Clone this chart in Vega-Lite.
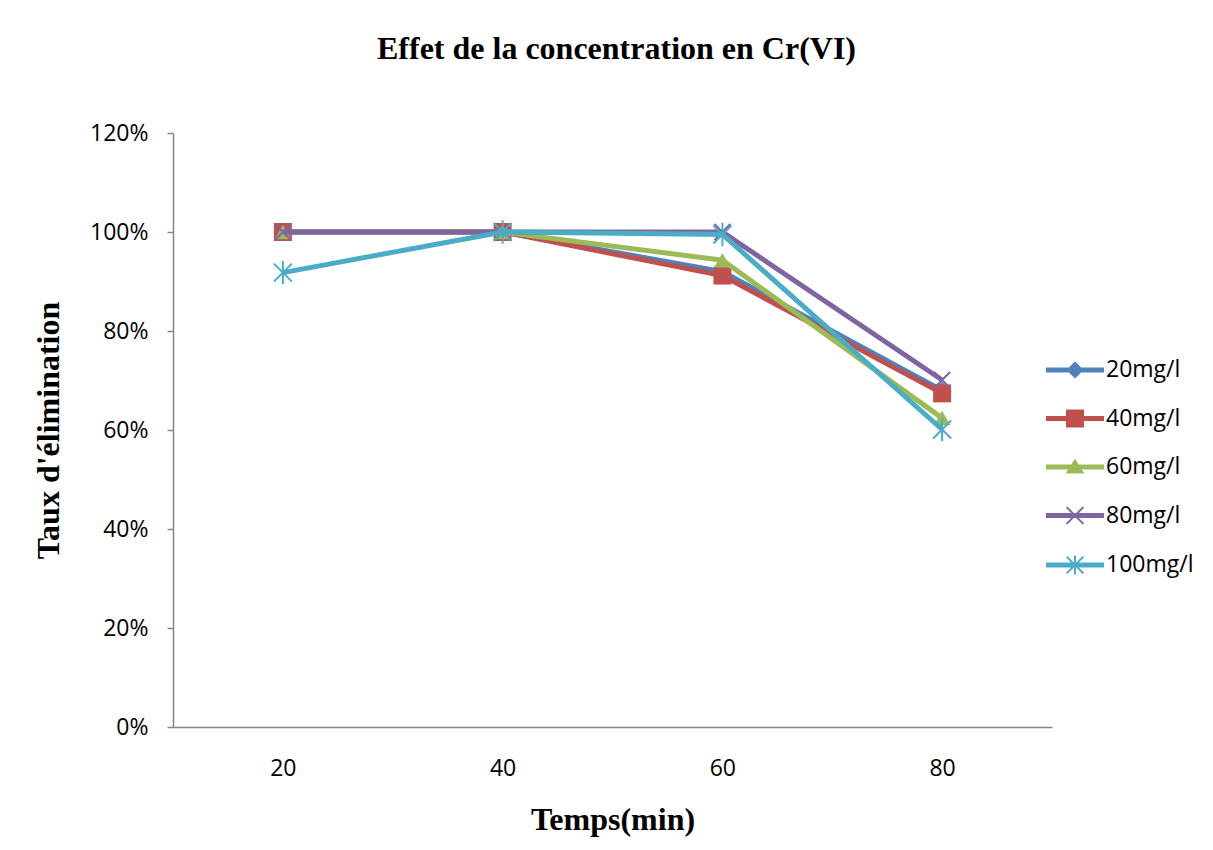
{
  "$schema": "https://vega.github.io/schema/vega-lite/v6.json",
  "autosize": {"type": "none"},
  "width": 879,
  "height": 594,
  "padding": {"left": 173, "top": 133, "right": 161, "bottom": 123},
  "background": "white",
  "config": {
    "view": {"stroke": null}
  },
  "title": {
    "text": "Effet de  la concentration en  Cr(VI)",
    "font": "Liberation Serif",
    "fontSize": 32,
    "fontWeight": "bold",
    "color": "#000000",
    "anchor": "middle",
    "baseline": "alphabetic",
    "offset": 31,
    "dx": 4
  },
  "data": {
    "values": [
      {"t": 20, "s": "20mg/l", "v": 1.0},
      {"t": 40, "s": "20mg/l", "v": 1.0},
      {"t": 60, "s": "20mg/l", "v": 0.92},
      {"t": 80, "s": "20mg/l", "v": 0.68},
      {"t": 20, "s": "40mg/l", "v": 1.0},
      {"t": 40, "s": "40mg/l", "v": 1.0},
      {"t": 60, "s": "40mg/l", "v": 0.912},
      {"t": 80, "s": "40mg/l", "v": 0.674},
      {"t": 20, "s": "60mg/l", "v": 1.0},
      {"t": 40, "s": "60mg/l", "v": 1.0},
      {"t": 60, "s": "60mg/l", "v": 0.943},
      {"t": 80, "s": "60mg/l", "v": 0.624},
      {"t": 20, "s": "80mg/l", "v": 1.0},
      {"t": 40, "s": "80mg/l", "v": 1.0},
      {"t": 60, "s": "80mg/l", "v": 1.0},
      {"t": 80, "s": "80mg/l", "v": 0.701},
      {"t": 20, "s": "100mg/l", "v": 0.918},
      {"t": 40, "s": "100mg/l", "v": 1.0},
      {"t": 60, "s": "100mg/l", "v": 0.995},
      {"t": 80, "s": "100mg/l", "v": 0.601}
    ]
  },
  "encoding": {
    "x": {
      "field": "t",
      "type": "ordinal",
      "scale": {"type": "point", "padding": 0.5},
      "axis": {
        "title": "Temps(min)",
        "labelAngle": 0,
        "ticks": false,
        "labelPadding": 30,
        "labelFont": "Open Sans",
        "labelFontSize": 23,
        "labelColor": "#000000",
        "domainColor": "#868686",
        "domainWidth": 1.5,
        "titleFont": "Liberation Serif",
        "titleFontSize": 32,
        "titleFontWeight": "bold",
        "titleColor": "#000000",
        "titlePadding": 24
      }
    },
    "y": {
      "field": "v",
      "type": "quantitative",
      "scale": {"domain": [0, 1.2], "nice": false},
      "axis": {
        "title": "Taux d'élimination",
        "values": [0, 0.2, 0.4, 0.6, 0.8, 1.0, 1.2],
        "format": ".0%",
        "grid": false,
        "labelFont": "Open Sans",
        "labelFontSize": 23,
        "labelColor": "#000000",
        "labelPadding": 19,
        "domainColor": "#868686",
        "domainWidth": 1.5,
        "tickColor": "#868686",
        "tickWidth": 1.5,
        "tickSize": 6,
        "titleFont": "Liberation Serif",
        "titleFontSize": 32,
        "titleFontWeight": "bold",
        "titleColor": "#000000",
        "titlePadding": 24
      }
    }
  },
  "layer": [
    {
      "transform": [{"filter": "datum.s === '20mg/l'"}],
      "mark": {"type": "line", "strokeWidth": 5, "color": "#4F81BD", "point": {"shape": "diamond", "filled": true, "size": 300, "color": "#4F81BD"}}
    },
    {
      "transform": [{"filter": "datum.s === '40mg/l'"}],
      "mark": {"type": "line", "strokeWidth": 5, "color": "#C0504D", "point": {"shape": "square", "filled": true, "size": 324, "color": "#C0504D"}}
    },
    {
      "transform": [{"filter": "datum.s === '60mg/l'"}],
      "mark": {"type": "line", "strokeWidth": 5, "color": "#9BBB59", "point": {"shape": "triangle-up", "filled": true, "size": 280, "color": "#9BBB59"}}
    },
    {
      "transform": [{"filter": "datum.s === '80mg/l'"}],
      "mark": {"type": "line", "strokeWidth": 5, "color": "#8064A2", "point": {"shape": "M-1,-1L1,1M-1,1L1,-1", "filled": false, "size": 256, "strokeWidth": 2, "color": "#8064A2"}}
    },
    {
      "transform": [{"filter": "datum.s === '100mg/l'"}],
      "mark": {"type": "line", "strokeWidth": 5, "color": "#4BACC6", "point": {"shape": "M-1,-1L1,1M-1,1L1,-1M0,-1.3L0,1.3", "filled": false, "size": 324, "strokeWidth": 2, "color": "#4BACC6"}}
    },
    {
      "mark": {"type": "point", "filled": true, "opacity": 1, "size": 0},
      "encoding": {
        "color": {
          "field": "s",
          "type": "nominal",
          "scale": {"domain": ["20mg/l", "40mg/l", "60mg/l", "80mg/l", "100mg/l"], "range": ["#4F81BD", "#C0504D", "#9BBB59", "#8064A2", "#4BACC6"]},
          "legend": {"title": null, "orient": "none", "legendX": 881, "legendY": 216, "symbolSize": 1600, "symbolStrokeWidth": 2, "labelFont": "Open Sans", "labelFontSize": 23, "labelColor": "#000000", "labelOffset": 10, "rowPadding": 15.5, "padding": 0}
        },
        "stroke": {
          "field": "s",
          "type": "nominal",
          "scale": {"domain": ["20mg/l", "40mg/l", "60mg/l", "80mg/l", "100mg/l"], "range": ["#4F81BD", "#C0504D", "#9BBB59", "#8064A2", "#4BACC6"]},
          "legend": {"title": null, "orient": "none", "legendX": 881, "legendY": 216, "symbolSize": 1600, "symbolStrokeWidth": 2, "labelFont": "Open Sans", "labelFontSize": 23, "labelColor": "#000000", "labelOffset": 10, "rowPadding": 15.5, "padding": 0}
        },
        "shape": {
          "field": "s",
          "type": "nominal",
          "scale": {
            "domain": ["20mg/l", "40mg/l", "60mg/l", "80mg/l", "100mg/l"],
            "range": [
              "M-1.4,-0.0775L1.4,-0.0775L1.4,0.0775L-1.4,0.0775ZM0,-0.36L0.36,0L0,0.36L-0.36,0Z",
              "M-1.4,-0.0775L1.4,-0.0775L1.4,0.0775L-1.4,0.0775ZM-0.4,-0.4L0.4,-0.4L0.4,0.4L-0.4,0.4Z",
              "M-1.4,-0.0775L1.4,-0.0775L1.4,0.0775L-1.4,0.0775ZM0,-0.32L0.38,0.27L-0.38,0.27Z",
              "M-1.4,-0.0775L1.4,-0.0775L1.4,0.0775L-1.4,0.0775ZM-0.42,-0.42L0.42,0.42M-0.42,0.42L0.42,-0.42",
              "M-1.4,-0.0775L1.4,-0.0775L1.4,0.0775L-1.4,0.0775ZM-0.42,-0.42L0.42,0.42M-0.42,0.42L0.42,-0.42M0,-0.48L0,0.48"
            ]
          },
          "legend": {"title": null, "orient": "none", "legendX": 881, "legendY": 216, "symbolSize": 1600, "symbolStrokeWidth": 2, "labelFont": "Open Sans", "labelFontSize": 23, "labelColor": "#000000", "labelOffset": 10, "rowPadding": 15.5, "padding": 0}
        }
      }
    }
  ]
}
